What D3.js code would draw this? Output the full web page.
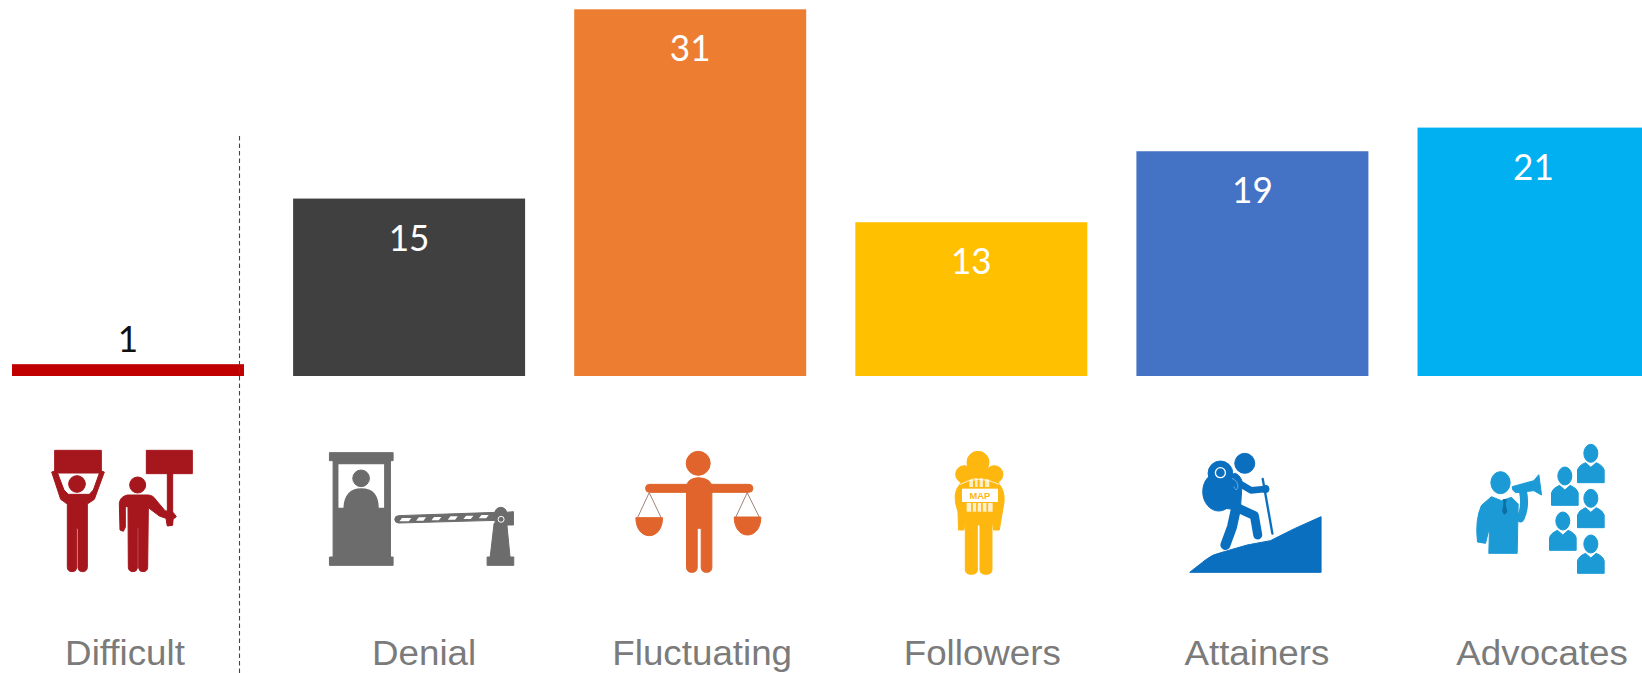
<!DOCTYPE html>
<html>
<head>
<meta charset="utf-8">
<script src="https://cdn.jsdelivr.net/npm/d3@7/dist/d3.min.js"></script>
<style>
  html, body { margin: 0; padding: 0; background: #fff; overflow: hidden; }
  svg { display: block; }
</style>
</head>
<body>
<svg id="chart" width="1642" height="673"></svg>
<script>
// Respondent segments and their counts
const categories = ["Difficult", "Denial", "Fluctuating", "Followers", "Attainers", "Advocates"];
const counts = [1, 15, 31, 13, 19, 21];
const barColors = ["#C00000", "#404040", "#ED7D31", "#FFC000", "#4472C4", "#00B0F0"];
const iconColors = ["#A5161D", "#6C6C6C", "#E0642B", "#FDB70F", "#0B6FBF", "#1B9AD6"];

const width = 1642, height = 673;
const baseline = 376;

const svg = d3.select("#chart");

const x = d3.scaleBand()
  .domain(categories)
  .range([12, 1649.5])
  .paddingInner(0.1747)
  .paddingOuter(0);

const y = d3.scaleLinear().domain([0, 31]).range([baseline, 9.3]);

// Bars
svg.append("g").selectAll("rect")
  .data(categories)
  .join("rect")
  .attr("x", d => x(d))
  .attr("y", (d, i) => y(counts[i]))
  .attr("width", x.bandwidth())
  .attr("height", (d, i) => baseline - y(counts[i]))
  .attr("fill", (d, i) => barColors[i]);

// Divider between the first segment and the rest
svg.append("line")
  .attr("x1", 239.5).attr("x2", 239.5)
  .attr("y1", 136).attr("y2", height)
  .attr("stroke", "#3f4650")
  .attr("stroke-width", 1.1)
  .attr("stroke-dasharray", "4.5 3");

// Value labels: inside the bar, except for the thin first one
svg.append("g").selectAll("text")
  .data(categories)
  .join("text")
  .attr("transform", (d, i) => {
    const ly = i === 0 ? y(counts[i]) - 12.5 : y(counts[i]) + 52;
    return `translate(${x(d) + x.bandwidth() / 2},${ly}) scale(0.95,1)`;
  })
  .attr("text-anchor", "middle")
  .attr("font-family", "Lato, sans-serif")
  .attr("font-size", 37)
  .attr("fill", (d, i) => i === 0 ? "#111" : "#fff")
  .text((d, i) => counts[i]);

// Category names under the icons
const labelShift = [-3, 15, 12, 11, 4.5, 8.6];
svg.append("g").selectAll("text")
  .data(categories)
  .join("text")
  .attr("transform", (d, i) => `translate(${x(d) + x.bandwidth() / 2 + labelShift[i]},665) scale(1.05,1)`)
  .attr("text-anchor", "middle")
  .attr("font-family", "'Liberation Sans', Arial, sans-serif")
  .attr("font-size", 35)
  .attr("fill", "#7b7b7b")
  .text(d => d);

// Icons are authored at 3 units per pixel, each from its own origin
const iconOrigin = [[28, 440], [27, 445], [55, 445], [70, 445], [44, 445], [48, 440]];
const icons = svg.append("g").selectAll("g")
  .data(categories)
  .join("g")
  .attr("transform", (d, i) => `translate(${x(d) + iconOrigin[i][0]},${iconOrigin[i][1]}) scale(${1 / 3})`)
  .attr("fill", (d, i) => iconColors[i])
  .attr("stroke", (d, i) => iconColors[i])
  .attr("stroke-width", 3)
  .attr("stroke-linejoin", "round");

function shape(g, d, extra) {
  const p = g.append("path").attr("d", d);
  if (extra && extra.fill === "#fff") p.attr("stroke", "none");
  if (extra) Object.entries(extra).forEach(([k, v]) => p.attr(k, v));
  return p;
}
const line = (g, d, w) => shape(g, d, {
  fill: "none", "stroke-width": w, "stroke-linecap": "round"
});
const disc = (g, cx, cy, r, ry) => g.append("ellipse")
  .attr("cx", cx).attr("cy", cy).attr("rx", r).attr("ry", ry || r);
const whiteBox = (g, bx, by, w, h) => g.append("rect")
  .attr("x", bx).attr("y", by).attr("width", w).attr("height", h)
  .attr("fill", "#fff").attr("stroke", "none");
const box = (g, bx, by, w, h) => g.append("rect")
  .attr("x", bx).attr("y", by).attr("width", w).attr("height", h);

// Protesters holding placards
{
  const g = icons.filter((d, i) => i === 0);
  box(g, 44, 31, 140, 68);
  shape(g, "M35,96 L50,92 L53,100 L72,150 L85,163 L148,163 L160,150 L178,100 L180,92 L193,96 L163,178 L142,192 L142,382 Q141,395 128,395 Q115,395 114,384 L114,265 L110,265 L110,384 Q109,395 96,395 Q83,395 82,382 L82,192 L62,178 Z");
  disc(g, 111, 132, 25);
  box(g, 319, 31, 138, 70);
  box(g, 382, 100, 16, 155);
  disc(g, 293, 135, 24);
  shape(g, "M262,165 L325,165 Q340,166 348,180 L375,212 L400,218 L409,230 L399,238 L397,256 L382,258 L378,235 L358,228 L325,203 L323,382 Q322,395 309,395 Q297,395 296,384 L296,265 L292,265 L292,384 Q291,395 279,395 Q266,395 265,382 L264,200 L256,200 L256,262 L250,274 L240,270 L238,190 Q240,170 262,165 Z");
}

// Gatekeeper in a booth with a barrier arm
{
  const g = icons.filter((d, i) => i === 1);
  box(g, 28, 23, 191, 24);
  box(g, 39, 46, 172, 292);
  box(g, 28, 336, 191, 25);
  shape(g, "M55,58 H192 V188 H176 C175,150 160,130 123,130 C90,130 72,150 70,188 H55 Z", { fill: "#fff" });
  disc(g, 123, 100, 25);
  box(g, 501, 336, 80, 25);
  shape(g, "M522,235 L560,235 L570,338 L510,338 Z");
  disc(g, 542, 205, 18);
  shape(g, "M525,205 L580,200 L580,240 L525,240 Z");
  shape(g, "M235,212 L530,202 L530,226 L235,234 Q224,233 224,223 Q224,213 235,212 Z");
  [[240, 224], [290, 222], [336, 221], [385, 219], [432, 217], [478, 215]].forEach(([sx, sy]) => {
    const w = sx === 240 ? 28 : 22;
    shape(g, `M${sx + 6},${sy - 5} h${w} l-8,10 h-${w} Z`, { fill: "#fff" });
  });
  g.append("circle").attr("cx", 543).attr("cy", 223).attr("r", 9)
    .attr("fill", "none").attr("stroke", "#fff").attr("stroke-width", 3);
}

// Figure balancing two scale pans
{
  const g = icons.filter((d, i) => i === 2);
  disc(g, 207, 55, 36);
  g.append("rect").attr("x", 49).attr("y", 118).attr("width", 322).attr("height", 24).attr("rx", 12);
  shape(g, "M172,128 Q172,100 207,98 Q248,100 248,128 L248,368 Q247,382 232,382 Q217,382 216,368 L216,250 L204,250 L204,368 Q203,382 188,382 Q173,382 172,368 Z");
  shape(g, "M20,218 H100 C100,252 82,272 60,272 C38,272 20,252 20,218 Z");
  shape(g, "M315,216 H395 C395,250 377,270 355,270 C333,270 315,250 315,216 Z");
  shape(g, "M60,143 L26,216 M60,143 L95,216 M354,143 L320,216 M354,143 L390,216", { fill: "none", stroke: "#8d6a5c", "stroke-width": 2.5 });
}

// Hiker from behind holding a map
{
  const g = icons.filter((d, i) => i === 3);
  disc(g, 158, 52, 33);
  disc(g, 117, 88, 26);
  disc(g, 207, 88, 26);
  shape(g, "M118,70 L205,70 L222,118 Q245,145 232,195 L222,255 L205,255 L200,225 L200,375 Q199,388 182,388 Q165,388 164,376 L164,240 L156,240 L156,376 Q155,388 138,388 Q121,388 120,375 L120,225 L116,255 L100,255 L98,200 Q78,145 104,118 Z");
  shape(g, "M132,104 Q158,94 192,104 L192,126 L132,126 Z", { fill: "#fff", opacity: 0.75 });
  shape(g, "M146,102 V126 M160,98 V126 M176,100 V126", { fill: "none", "stroke-width": 6 });
  whiteBox(g, 110, 131, 108, 40);
  g.append("text").attr("x", 164).attr("y", 161).attr("text-anchor", "middle").attr("stroke", "none")
    .attr("font-family", "'Liberation Sans', Arial, sans-serif").attr("font-weight", "bold")
    .attr("font-size", 28).text("MAP");
  g.append("rect").attr("x", 124).attr("y", 174).attr("width", 78).attr("height", 26)
    .attr("fill", "#fff").attr("stroke", "none").attr("opacity", 0.8);
  shape(g, "M140,174 V200 M155,174 V200 M170,174 V200 M186,174 V200", { fill: "none", "stroke-width": 5 });
  shape(g, "M104,118 Q158,88 222,118", { fill: "none", stroke: "#fff", "stroke-width": 3, opacity: 0.8 });
}

// Climber with backpack on a slope
{
  const g = icons.filter((d, i) => i === 4);
  disc(g, 193, 55, 30);
  disc(g, 120, 85, 37);
  disc(g, 115, 140, 48, 58);
  shape(g, "M120,100 L165,85 Q185,95 185,115 L180,195 L130,190 Z");
  line(g, "M172,112 L212,136 L255,132", 20);
  line(g, "M168,185 L155,245 L135,300", 30);
  line(g, "M175,190 L222,212 L232,270", 27);
  line(g, "M247,102 L276,266", 7);
  disc(g, 255, 132, 11);
  shape(g, "M28,382 L75,345 Q95,328 125,322 L200,300 L270,287 Q340,250 422,215 V382 Z");
  g.append("circle").attr("cx", 120).attr("cy", 83).attr("r", 15)
    .attr("fill", "none").attr("stroke", "#fff").attr("stroke-width", 4);
  shape(g, "M155,100 Q175,108 172,130 Q168,140 160,125", { fill: "none", stroke: "#8fc2ea", "stroke-width": 2 });
}

// Speaker with a megaphone addressing a small crowd
{
  const g = icons.filter((d, i) => i === 5);
  disc(g, 105, 128, 29, 33);
  shape(g, "M78,170 L108,182 L138,172 L158,192 L155,340 L70,340 L72,262 L60,310 L36,306 Q28,240 48,196 Z");
  line(g, "M165,235 Q182,200 172,152", 24);
  shape(g, "M140,140 L205,122 L220,104 L228,165 L205,152 L150,158 Q138,150 140,140 Z");
  shape(g, "M112,178 L124,178 L120,192 L126,216 L116,224 L110,214 L114,192 Z", { fill: "#0c6ea3", stroke: "none" });
  [[376, 40], [298, 108], [376, 175], [292, 243], [376, 312]].forEach(([cx, cy]) => {
    disc(g, cx, cy, 21, 27);
    shape(g, `M${cx - 16},${cy + 28} L${cx},${cy + 42} L${cx + 16},${cy + 28} Q${cx + 36},${cy + 36} ${cx + 40},${cy + 50} L${cx + 40},${cy + 88} L${cx - 40},${cy + 88} L${cx - 40},${cy + 50} Q${cx - 36},${cy + 36} ${cx - 16},${cy + 28} Z`);
  });
}
</script>
</body>
</html>
